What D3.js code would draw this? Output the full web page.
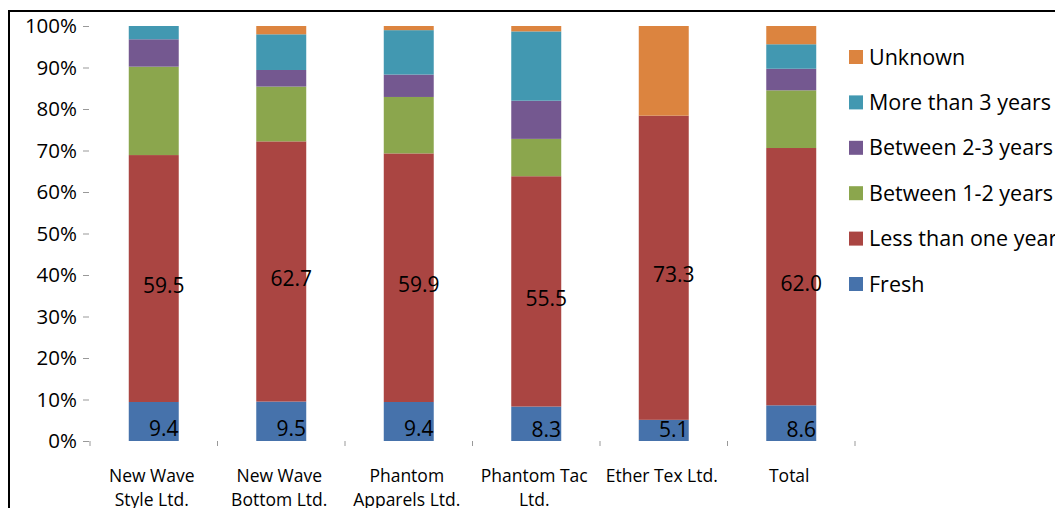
<!DOCTYPE html>
<html>
<head>
<meta charset="utf-8">
<script src="https://cdn.jsdelivr.net/npm/d3@7"></script>
<style>
  body { margin: 0; background: #fff; }
  svg { display: block; font-family: "Open Sans", sans-serif; }
</style>
</head>
<body>
<svg id="chart" width="1055" height="508"></svg>
<script>
// stock age per company, percent of pieces
var categories = ["New Wave Style Ltd.", "New Wave Bottom Ltd.", "Phantom Apparels Ltd.",
                  "Phantom Tac Ltd.", "Ether Tex Ltd.", "Total"];
var categoryLines = [["New Wave", "Style Ltd."], ["New Wave", "Bottom Ltd."], ["Phantom", "Apparels Ltd."],
                     ["Phantom Tac", "Ltd."], ["Ether Tex Ltd."], ["Total"]];

var seriesNames = ["Fresh", "Less than one year", "Between 1-2 years",
                   "Between 2-3 years", "More than 3 years", "Unknown"];
var fresh     = [9.4, 9.5, 9.4, 8.3, 5.1, 8.6];
var lessOne   = [59.5, 62.7, 59.9, 55.5, 73.3, 62.0];
var between12 = [21.3, 13.2, 13.6, 9.0, 0, 13.9];
var between23 = [6.6, 4.0, 5.4, 9.2, 0, 5.2];
var moreThree = [3.2, 8.6, 10.7, 16.7, 0, 5.9];
var unknown   = [0, 2.0, 1.0, 1.3, 21.6, 4.4];
var yTicks = [0, 10, 20, 30, 40, 50, 60, 70, 80, 90, 100];

var colors = ["#4672ab", "#aa4542", "#8ba64d", "#745890", "#4298b1", "#dc843f"];

var svg = d3.select("#chart");

var rows = categories.map((c, i) => ({
  cat: c,
  "Fresh": fresh[i],
  "Less than one year": lessOne[i],
  "Between 1-2 years": between12[i],
  "Between 2-3 years": between23[i],
  "More than 3 years": moreThree[i],
  "Unknown": unknown[i]
}));

var stacked = d3.stack().keys(seriesNames)(rows);

var x = d3.scaleBand()
    .domain(categories)
    .range([90, 855])
    .paddingInner(0.608)
    .paddingOuter(0.304);

var y = d3.scaleLinear()
    .domain([0, 100])
    .range([441, 26]);

// frame
svg.append("path")
    .attr("d", "M9,508V11H1055")
    .attr("fill", "none")
    .attr("stroke", "#000")
    .attr("stroke-width", 2);

// bars
svg.append("g").selectAll("g")
  .data(stacked)
  .join("g")
    .attr("fill", (d, i) => colors[i])
  .selectAll("rect")
  .data(d => d)
  .join("rect")
    .attr("x", d => x(d.data.cat))
    .attr("width", x.bandwidth())
    .attr("y", d => y(d[1]))
    .attr("height", d => y(d[0]) - y(d[1]));

// value labels for the two bottom series only
var labelled = stacked.slice(0, 2);
svg.append("g").selectAll("g")
  .data(labelled)
  .join("g")
  .selectAll("text")
  .data(d => d)
  .join("text")
    .attr("x", d => x(d.data.cat) + x.bandwidth() / 2 + 10)
    .attr("y", d => Math.min((y(d[0]) + y(d[1])) / 2 + 7, y(0) - 11))
    .attr("dy", "0.35em")
    .attr("text-anchor", "middle")
    .style("font-size", "21px")
    .attr("fill", "#000")
    .text(d => (d[1] - d[0]).toFixed(1));

// y axis
var yAxis = svg.append("g")
    .attr("transform", "translate(89,0)")
    .call(d3.axisLeft(y).tickValues(yTicks).tickFormat(d => d + "%").tickSize(6).tickPadding(6));
yAxis.select(".domain").remove();
yAxis.selectAll("line").attr("stroke", "#999");
yAxis.selectAll("text").style("font-size", "20.5px").style("font-family", "'Open Sans', sans-serif").attr("fill", "#000");

// category ticks at band edges
var edges = categories.map(c => x(c) - (x.step() - x.bandwidth()) / 2);
edges.push(x.range()[1]);
svg.append("g").selectAll("line")
  .data(edges)
  .join("line")
    .attr("x1", d => d).attr("x2", d => d)
    .attr("y1", y(0)).attr("y2", y(0) + 5)
    .attr("stroke", "#999");

// category labels
svg.append("g").selectAll("text")
  .data(categories)
  .join("text")
    .attr("x", d => x(d) + x.bandwidth() / 2 - 2)
    .attr("y", 482)
    .attr("text-anchor", "middle")
    .style("font-size", "17.5px")
    .attr("fill", "#000")
  .selectAll("tspan")
  .data((d, i) => categoryLines[i])
  .join("tspan")
    .attr("x", function() { return this.parentNode.getAttribute("x"); })
    .attr("dy", (d, i) => i === 0 ? 0 : 24)
    .text(d => d);

// legend, top entry is the last series
var legend = svg.append("g").attr("transform", "translate(849,57)");
var legendItems = legend.selectAll("g")
  .data(seriesNames.slice().reverse())
  .join("g")
    .attr("transform", (d, i) => "translate(0," + (i * 45.4) + ")");
legendItems.append("rect")
    .attr("x", 0).attr("y", -7)
    .attr("width", 14).attr("height", 14)
    .attr("fill", d => colors[seriesNames.indexOf(d)]);
legendItems.append("text")
    .attr("x", 20)
    .attr("dy", "0.35em")
    .style("font-size", "21.5px")
    .attr("fill", "#000")
    .text(d => d);
</script>
</body>
</html>
